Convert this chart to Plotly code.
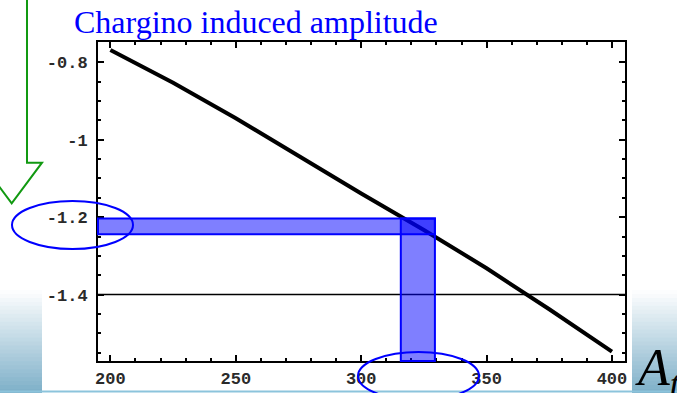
import plotly.graph_objects as go

# ---- data ----
mass_values = [200, 225, 250, 275, 300, 325, 350, 375, 400]
amplitude_values = [-0.768, -0.853, -0.9445, -1.0426, -1.139, -1.233, -1.332, -1.438, -1.5476]
target_level = -1.4
band_amp = [-1.2034, -1.2439]      # measured amplitude band
band_mass = [315.8, 329.4]         # resulting A_t band
x_tickvals = [200, 250, 300, 350, 400]
x_ticktext = ["200", "250", "300", "350", "400"]
y_tickvals = [-0.8, -1.0, -1.2, -1.4]
y_ticktext = ["-0.8", "-1", "-1.2", "-1.4"]
title_text = "Chargino induced amplitude"
axis_label = "<i>A<sub>t</sub></i>"

X_RANGE = [195.05, 405.2]
Y_RANGE = [-1.5716, -0.7476]

# ---- layout geometry (pixels) ----
W, H = 677, 393
L, R, T, B = 98, 625, 42, 361
PW, PH = R - L, B - T


def px(x):
    return (x - L) / PW


def py(y):
    return (B - y) / PH


fig = go.Figure()
fig.add_trace(go.Scatter(x=mass_values, y=amplitude_values, mode="lines",
                         line=dict(color="black", width=4), showlegend=False,
                         hoverinfo="skip"))

shapes = []
# background gradient strips (slide background)
n = 26
g_top, g_bot = 290, 393
c0 = (255, 255, 255)
c1 = (125, 175, 200)
for i in range(n):
    y0 = g_top + (g_bot - g_top) * i / n
    y1 = g_top + (g_bot - g_top) * (i + 1) / n + 1.5
    f = (i + 0.5) / n
    c = tuple(int(round(c0[k] + (c1[k] - c0[k]) * f)) for k in range(3))
    col = "rgb(%d,%d,%d)" % c
    for xa, xb in [(-2, 42), (632, 680)]:
        shapes.append(dict(type="rect", xref="paper", yref="paper",
                           x0=px(xa), x1=px(xb), y0=py(y1), y1=py(y0),
                           fillcolor=col, line=dict(width=0), layer="below"))
# bottom slide line
shapes.append(dict(type="line", xref="paper", yref="paper", x0=px(0), x1=px(677),
                   y0=py(391.5), y1=py(391.5), line=dict(color="#8cc4dc", width=2)))

# target horizontal line
shapes.append(dict(type="line", xref="x domain", yref="y", x0=0, x1=1,
                   y0=target_level, y1=target_level, line=dict(color="black", width=1.5)))
# bands
shapes.append(dict(type="rect", xref="x domain", yref="y", x0=0,
                   x1=(band_mass[1] - X_RANGE[0]) / (X_RANGE[1] - X_RANGE[0]),
                   y0=band_amp[1], y1=band_amp[0], fillcolor="rgba(0,0,255,0.5)",
                   line=dict(color="#0000ff", width=2)))
shapes.append(dict(type="rect", xref="x", yref="y domain", x0=band_mass[0], x1=band_mass[1],
                   y0=0, y1=(band_amp[0] - Y_RANGE[0]) / (Y_RANGE[1] - Y_RANGE[0]),
                   fillcolor="rgba(0,0,255,0.5)",
                   line=dict(color="#0000ff", width=2)))
# ellipses
shapes.append(dict(type="circle", xref="paper", yref="paper", x0=px(12), x1=px(133),
                   y0=py(249), y1=py(201), line=dict(color="#0000ff", width=2)))
shapes.append(dict(type="circle", xref="paper", yref="paper", x0=px(358), x1=px(479),
                   y0=py(400), y1=py(352), line=dict(color="#0000ff", width=2)))
# green arrow outline
pts = [(27, -5), (27, 162.7), (42, 162.7), (11.7, 203.3), (-18.6, 162.7), (-3.6, 162.7), (-3.6, -5)]
path = "M " + " L ".join("%f,%f" % (px(a), py(b)) for a, b in pts) + " Z"
shapes.append(dict(type="path", xref="paper", yref="paper", path=path,
                   line=dict(color="#119911", width=2)))

annotations = [
    dict(text=title_text, xref="paper", yref="paper", x=px(72), y=py(22),
         xanchor="left", yanchor="middle", showarrow=False,
         font=dict(family="Liberation Serif", size=32, color="#0000ff")),
    dict(text=axis_label, xref="paper", yref="paper", x=px(633), y=py(371),
         xanchor="left", yanchor="middle", showarrow=False,
         font=dict(family="Liberation Serif", size=52, color="black")),
]

tickfont = dict(family="Liberation Mono", size=17, color="#2a2a2a", weight="bold")

fig.update_layout(
    width=W, height=H, autosize=False,
    margin=dict(l=L, r=W - R, t=T, b=H - B, pad=0),
    paper_bgcolor="white", plot_bgcolor="white",
    shapes=shapes, annotations=annotations,
    xaxis=dict(range=X_RANGE, tickmode="array", tickvals=x_tickvals, ticktext=x_ticktext,
               ticks="inside", ticklen=6, tickwidth=1.5, tickcolor="black",
               showline=True, linecolor="black", linewidth=2, mirror="allticks",
               showgrid=False, zeroline=False, tickfont=tickfont, ticklabelstandoff=1,
               automargin=False,
               minor=dict(tickmode="linear", tick0=200, dtick=10, ticks="inside", ticklen=3,
                          tickwidth=1.5, tickcolor="black", showgrid=False)),
    yaxis=dict(range=Y_RANGE, tickmode="array", tickvals=y_tickvals, ticktext=y_ticktext,
               ticks="inside", ticklen=6, tickwidth=1.5, tickcolor="black",
               showline=True, linecolor="black", linewidth=2, mirror="allticks",
               showgrid=False, zeroline=False, tickfont=tickfont, ticklabelstandoff=5,
               automargin=False,
               minor=dict(tickmode="linear", tick0=-0.8, dtick=0.05, ticks="inside", ticklen=3,
                          tickwidth=1.5, tickcolor="black", showgrid=False)),
)

fig.write_html("out.html")
